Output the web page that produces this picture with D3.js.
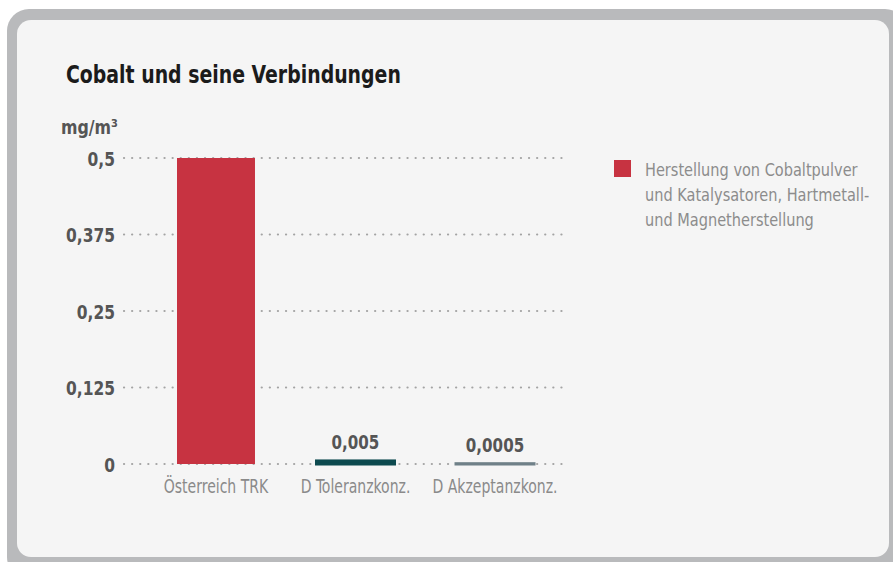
<!DOCTYPE html>
<html>
<head>
<meta charset="utf-8">
<script src="https://cdn.jsdelivr.net/npm/d3@7"></script>
<style>
  body { margin: 0; background: #ffffff; }
  svg { display: block; }
  text { font-family: "DejaVu Sans Condensed", "Liberation Sans Narrow", sans-serif; }
</style>
</head>
<body>
<svg id="chart" width="893" height="562"></svg>
<script>
// data
var categories = ["Österreich TRK", "D Toleranzkonz.", "D Akzeptanzkonz."];
var values = [0.5, 0.005, 0.0005];
var valueLabels = [null, "0,005", "0,0005"];
var barColors = ["#c73341", "#0d4a4f", "#6f8088"];
var yTicks = [0, 0.125, 0.25, 0.375, 0.5];
var yTickLabels = ["0", "0,125", "0,25", "0,375", "0,5"];
var legendLines = ["Herstellung von Cobaltpulver", "und Katalysatoren, Hartmetall-", "und Magnetherstellung"];

// squeeze text horizontally to mimic a condensed face
function squeeze(sel, k) {
  sel.each(function () {
    var w = this.getComputedTextLength();
    d3.select(this)
      .attr("textLength", w * k)
      .attr("lengthAdjust", "spacingAndGlyphs");
  });
}

function draw() {
  var svg = d3.select("#chart");

  /*** frame ***/
  svg.append("rect")
    .attr("x", 7).attr("y", 9)
    .attr("width", 900).attr("height", 570)
    .attr("rx", 22)
    .attr("fill", "#b9babc");

  svg.append("rect")
    .attr("x", 17).attr("y", 20)
    .attr("width", 872).attr("height", 537)
    .attr("rx", 14)
    .attr("fill", "#f5f5f5");

  /*** title ***/
  svg.append("text")
    .attr("x", 66).attr("y", 83)
    .attr("font-size", 25)
    .attr("font-weight", "bold")
    .attr("fill", "#1b1b1b")
    .text("Cobalt und seine Verbindungen")
    .call(squeeze, 0.84);

  svg.append("text")
    .attr("x", 61).attr("y", 134)
    .attr("font-size", 20)
    .attr("font-weight", "bold")
    .attr("fill", "#555555")
    .text("mg/m³")
    .call(squeeze, 0.88);

  /*** scales ***/
  var yScale = d3.scaleLinear()
    .domain([0, 0.5])
    .range([464, 158]);

  var xScale = d3.scaleBand()
    .domain(categories)
    .range([177, 534])
    .paddingInner(0.441)
    .paddingOuter(0);

  /*** grid (dotted) ***/
  svg.append("g")
    .selectAll("line")
    .data(yTicks)
    .join("line")
    .attr("x1", 124).attr("x2", 566)
    .attr("y1", d => yScale(d)).attr("y2", d => yScale(d))
    .attr("stroke", "#a3a3a3")
    .attr("stroke-width", 2.2)
    .attr("stroke-linecap", "round")
    .attr("stroke-dasharray", "0.1 8");

  /*** y tick labels ***/
  svg.append("g")
    .selectAll("text")
    .data(yTicks)
    .join("text")
    .attr("x", 115)
    .attr("y", d => yScale(d) + 7.5)
    .attr("text-anchor", "end")
    .attr("font-size", 20)
    .attr("font-weight", "bold")
    .attr("fill", "#555555")
    .text((d, i) => yTickLabels[i])
    .call(squeeze, 0.86);

  /*** bars ***/
  svg.append("g")
    .selectAll("rect")
    .data(values)
    .join("rect")
    .attr("x", (d, i) => xScale(categories[i]))
    .attr("y", d => yScale(d))
    .attr("width", xScale.bandwidth())
    .attr("height", d => yScale(0) - yScale(d))
    .attr("fill", (d, i) => barColors[i])
    .attr("stroke", (d, i) => barColors[i])
    .attr("stroke-width", (d, i) => i == 0 ? 0 : 3);

  /*** value labels ***/
  svg.append("g")
    .selectAll("text")
    .data(values.filter((d, i) => valueLabels[i]))
    .join("text")
    .attr("x", (d, i) => xScale(categories[i + 1]) + xScale.bandwidth() / 2)
    .attr("y", d => yScale(d) - 12)
    .attr("text-anchor", "middle")
    .attr("font-size", 20)
    .attr("font-weight", "bold")
    .attr("fill", "#555555")
    .text((d, i) => valueLabels[i + 1])
    .call(squeeze, 0.84);

  /*** category labels ***/
  svg.append("g")
    .selectAll("text")
    .data(categories)
    .join("text")
    .attr("x", d => xScale(d) + xScale.bandwidth() / 2)
    .attr("y", 493)
    .attr("text-anchor", "middle")
    .attr("font-size", 19)
    .attr("fill", "#8a8a8a")
    .text(d => d)
    .call(squeeze, 0.82);

  /*** legend ***/
  var legend = svg.append("g")
    .attr("transform", "translate(614,160)");

  legend.append("rect")
    .attr("width", 17).attr("height", 17)
    .attr("fill", barColors[0]);

  legend.selectAll("text")
    .data(legendLines)
    .join("text")
    .attr("x", 31)
    .attr("y", (d, i) => 16 + i * 25)
    .attr("font-size", 17)
    .attr("fill", "#8c8c8c")
    .text(d => d)
    .call(squeeze, 0.95);
}
draw();
</script>
</body>
</html>
